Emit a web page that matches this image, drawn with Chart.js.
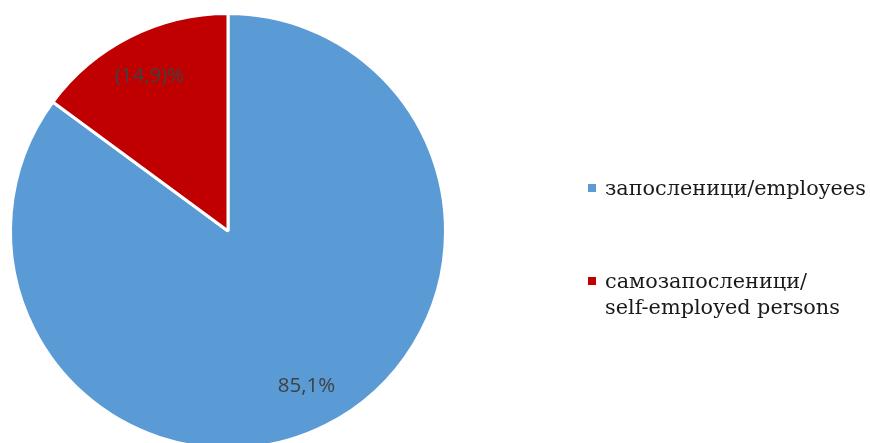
<!DOCTYPE html>
<html>
<head>
<meta charset="utf-8">
<script src="https://cdn.jsdelivr.net/npm/chart.js@4"></script>
<style>
    html, body { margin: 0; padding: 0; background: #fff; width: 870px; height: 443px; overflow: hidden; }
    #wrap { position: absolute; left: 0; top: 0; width: 870px; height: 462px; }
    #legend { position: absolute; left: 588px; top: 0; font-family: "DejaVu Serif", serif; font-size: 20.8px; color: #1a1a1a; }
    .item { position: absolute; left: 0; white-space: nowrap; }
    .box { position: absolute; left: 0; width: 8px; height: 8px; }
    .txt { position: absolute; left: 17px; line-height: 26px; }
</style>
</head>
<body>
<div id="wrap"><canvas id="myChart"></canvas></div>
<div id="legend"></div>
<script>
const categories = ["запосленици/employees", "самозапосленици/\nself-employed persons"];
const shares = [85.1, 14.9];
const shareLabels = ["85,1%", "(14,9)%"];
const colors = ["#5B9BD5", "#C00000"];

// легенда (HTML)
const legendTops = [175, 268];
let legend = document.getElementById("legend");
for (let i = 0; i < categories.length; i++) {
    let item = document.createElement("div");
    item.className = "item";
    item.style.top = legendTops[i] + "px";
    item.innerHTML = `
        <div class="box" style="top:9px;background:${colors[i]}"></div>
        <div class="txt">${categories[i].replace("\n", "<br>")}</div>
    `;
    legend.appendChild(item);
}

// натписи во парчињата
const sliceLabels = {
    id: "sliceLabels",
    afterDatasetsDraw(chart) {
        const ctx = chart.ctx;
        const arcs = chart.getDatasetMeta(0).data;
        ctx.save();
        ctx.font = "20.5px 'Open Sans', sans-serif";
        ctx.fillStyle = "#404040";
        ctx.textAlign = "center";
        ctx.textBaseline = "middle";
        for (let i = 0; i < arcs.length; i++) {
            const a = arcs[i];
            const mid = (a.startAngle + a.endAngle) / 2;
            const r = a.outerRadius * 0.8;
            ctx.fillText(shareLabels[i], a.x + Math.cos(mid) * r, a.y + Math.sin(mid) * r);
        }
        ctx.restore();
    }
};

new Chart(document.getElementById("myChart"), {
    type: "pie",
    data: {
        labels: categories,
        datasets: [{
            data: shares,
            backgroundColor: colors,
            borderColor: "#ffffff",
            borderWidth: 3
        }]
    },
    options: {
        responsive: true,
        maintainAspectRatio: false,
        animation: false,
        layout: {
            padding: { left: 9, top: 12, right: 423, bottom: 12 }
        },
        plugins: {
            legend: { display: false },
            tooltip: { enabled: false }
        }
    },
    plugins: [sliceLabels]
});
</script>
</body>
</html>
